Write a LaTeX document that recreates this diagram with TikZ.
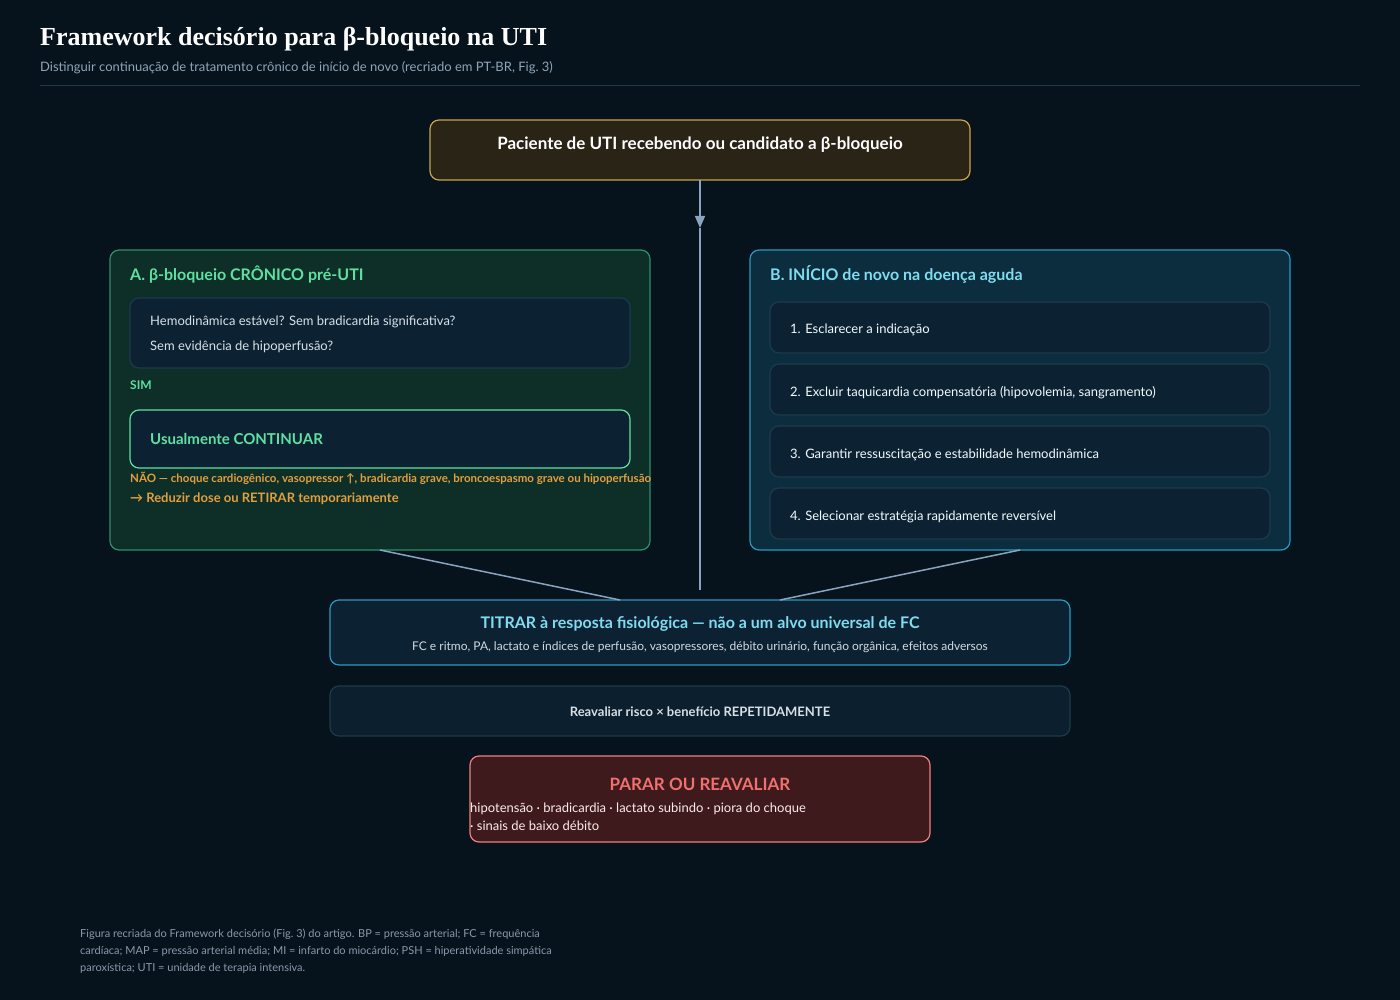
\documentclass[tikz,border=0pt]{standalone}
\usepackage{fontspec}
\setmainfont{Lato}
\newfontfamily\titlefont{Liberation Serif}
\usetikzlibrary{arrows.meta, positioning}

\definecolor{bgc}{HTML}{06121C}
\definecolor{rulec}{HTML}{1E3A4A}
\definecolor{subc}{HTML}{8FA6B8}
\definecolor{linkc}{HTML}{8AA4C0}
\definecolor{goldf}{HTML}{2A2416}
\definecolor{goldb}{HTML}{C9A54A}
\definecolor{greenf}{HTML}{0E2E28}
\definecolor{greenb}{HTML}{2E8F6A}
\definecolor{greent}{HTML}{5FE0A0}
\definecolor{cyanf}{HTML}{0C2D3D}
\definecolor{cyanb}{HTML}{2A9AC0}
\definecolor{cyant}{HTML}{7FDCF0}
\definecolor{innerf}{HTML}{0C2233}
\definecolor{innerb}{HTML}{1D3A4D}
\definecolor{bodyt}{HTML}{D8E0E6}
\definecolor{orangt}{HTML}{E0A040}
\definecolor{redf}{HTML}{3E1A1C}
\definecolor{redb}{HTML}{F08080}
\definecolor{redt}{HTML}{F07070}
\definecolor{footc}{HTML}{8A9AAA}

\tikzset{
  box/.style={draw, rounded corners=9pt, line width=1.2pt},
  inner/.style={box, fill=innerf, draw=innerb},
  txt/.style={anchor=base west, inner sep=0pt, font=\fontsize{13}{15}\selectfont, text=bodyt},
  ctxt/.style={txt, anchor=base},
  link/.style={draw=linkc, line width=1.5pt}
}

\begin{document}
\begin{tikzpicture}[x=1pt, y=-1pt]

\fill [bgc] (0,0) rectangle (1400,1000);
\useasboundingbox (0,0) rectangle (1400,1000);

% header
\node [txt, font=\titlefont\bfseries\fontsize{26}{30}\selectfont, text=white] (title) at (40,46) {Framework decisório para β-bloqueio na UTI};
\node [txt, text=subc] (subtitle) at (40,72) {Distinguir continuação de tratamento crônico de início de novo (recriado em PT-BR, Fig.~3)};
\draw [rulec, line width=1pt] (40,86) -- (1360,86);

% top
\draw [box, fill=goldf, draw=goldb] (430,120) rectangle (970,180);
\node [ctxt, font=\bfseries\fontsize{17}{20}\selectfont, text=white] (top) at (700,150) {Paciente de UTI recebendo ou candidato a β-bloqueio};
\coordinate (topS) at (700,180);
\coordinate (mid) at (700,228);
\coordinate (downE) at (700,590);
\draw [link, -{Triangle[length=12pt, width=10pt]}] (topS) -- (mid);
\draw [link] (mid) -- (downE);

% A
\draw [box, fill=greenf, draw=greenb] (110,250) rectangle (650,550);
\coordinate (aS) at (380,550);
\node [txt, font=\bfseries\fontsize{16}{19}\selectfont, text=greent] (atitle) at (130,280) {A. β-bloqueio CRÔNICO pré-UTI};
\draw [inner] (130,298) rectangle (630,368);
\node [txt] (aq1) at (150,326) {Hemodinâmica estável? Sem bradicardia significativa?};
\node [txt] (aq2) at (150,350) {Sem evidência de hipoperfusão?};
\node [txt, font=\bfseries\fontsize{12}{14}\selectfont, text=greent] (sim) at (130,389) {SIM};
\draw [inner, draw=greent] (130,410) rectangle (630,468);
\node [txt, font=\bfseries\fontsize{15}{18}\selectfont, text=greent] (cont) at (150,444) {Usualmente CONTINUAR};
\node [txt, font=\bfseries\fontsize{11.5}{14}\selectfont, text=orangt] (nao) at (130,482) {NÃO — choque cardiogênico, vasopressor ↑, bradicardia grave, broncoespasmo grave ou hipoperfusão};
\node [txt, font=\bfseries\fontsize{13}{15}\selectfont, text=orangt] (red) at (130,502) {→ Reduzir dose ou RETIRAR temporariamente};

% B
\draw [box, fill=cyanf, draw=cyanb] (750,250) rectangle (1290,550);
\coordinate (bS) at (1020,550);
\node [txt, font=\bfseries\fontsize{16}{19}\selectfont, text=cyant] (btitle) at (770,280) {B. INÍCIO de novo na doença aguda};
\foreach \y/\t [count=\i] in {302/1. Esclarecer a indicação,
    364/2. Excluir taquicardia compensatória (hipovolemia{,} sangramento),
    426/3. Garantir ressuscitação e estabilidade hemodinâmica,
    488/4. Selecionar estratégia rapidamente reversível} {
  \draw [inner] (770,\y) rectangle (1270,\y+51);
  \node [txt, text=white!90!cyant] (step\i) at (790,\y+32) {\t};
}

% titrate
\draw [box, fill=innerf, draw=cyanb] (330,600) rectangle (1070,665);
\coordinate (tL) at (620,600);
\coordinate (tR) at (780,600);
\draw [link] (aS) -- (tL);
\draw [link] (bS) -- (tR);
\node [ctxt, font=\bfseries\fontsize{16}{19}\selectfont, text=cyant] (tit) at (700,628) {TITRAR à resposta fisiológica — não a um alvo universal de FC};
\node [ctxt, font=\fontsize{12}{14}\selectfont, text=bodyt!90!subc] (titsub) at (700,650) {FC e ritmo, PA, lactato e índices de perfusão, vasopressores, débito urinário, função orgânica, efeitos adversos};

% reassess
\draw [box, fill=innerf!80!bgc, draw=rulec] (330,686) rectangle (1070,736);
\node [ctxt, font=\bfseries\fontsize{13}{15}\selectfont] (reav) at (700,716) {Reavaliar risco × benefício REPETIDAMENTE};

% stop
\draw [box, fill=redf, draw=redb] (470,756) rectangle (930,842);
\node [ctxt, font=\bfseries\fontsize{17}{20}\selectfont, text=redt] (stop) at (700,790) {PARAR OU REAVALIAR};
\node [txt, text=white!85!redb] (stop1) at (470,812) {hipotensão · bradicardia · lactato subindo · piora do choque};
\node [txt, text=white!85!redb] (stop2) at (470,830) {· sinais de baixo débito};

% footer
\node [txt, font=\fontsize{11}{17}\selectfont, text=footc, align=left, anchor=north west] (foot) at (80,929) {Figura recriada do Framework decisório (Fig.~3) do artigo. BP = pressão arterial; FC = frequência\\cardíaca; MAP = pressão arterial média; MI = infarto do miocárdio; PSH = hiperatividade simpática\\paroxística; UTI = unidade de terapia intensiva.};

\end{tikzpicture}
\end{document}
